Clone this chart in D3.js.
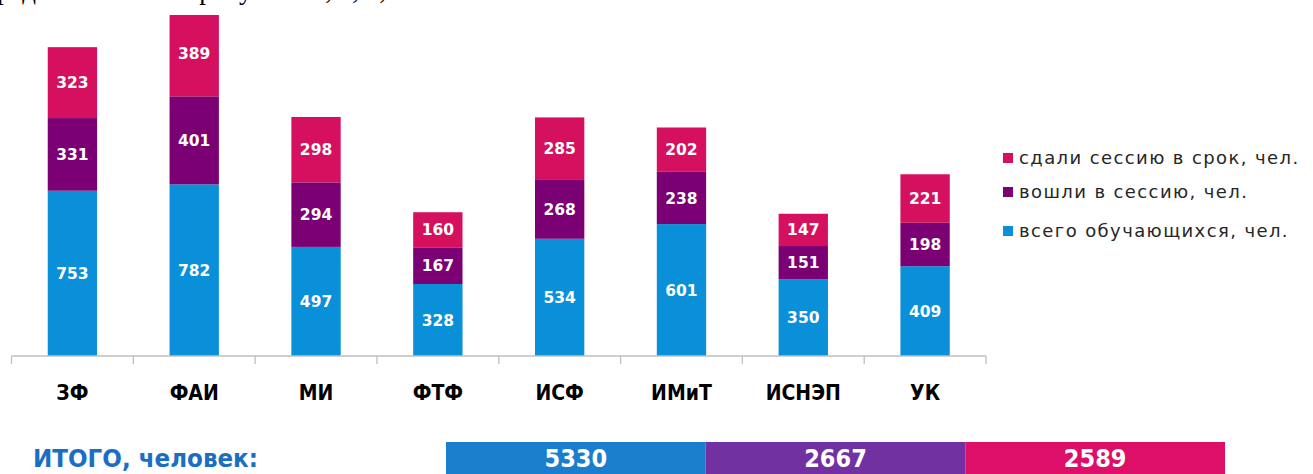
<!DOCTYPE html>
<html>
<head>
<meta charset="utf-8">
<script src="https://cdn.jsdelivr.net/npm/d3@7"></script>
<style>
  body { margin: 0; background: #fff; }
  svg { display: block; }
  .narrow { font-family: 'DejaVu Sans Condensed', 'DejaVu Sans', sans-serif; font-stretch: condensed; font-weight: bold; }
</style>
</head>
<body>
<div id="chart"></div>
<script>
"use strict";

var categories = ["ЗФ", "ФАИ", "МИ", "ФТФ", "ИСФ", "ИМиТ", "ИСНЭП", "УК"];
var allStudents = [753, 782, 497, 328, 534, 601, 350, 409];
var enteredSession = [331, 401, 294, 167, 268, 238, 151, 198];
var passedOnTime = [323, 389, 298, 160, 285, 202, 147, 221];
var seriesNames = ["всего  обучающихся, чел.", "вошли в сессию, чел.", "сдали сессию в срок, чел."];
var seriesKeys = ["all", "entered", "passed"];
var totals = [5330, 2667, 2589];
var totalLabel = "ИТОГО, человек:";

var W = 1313, H = 474;
var barColors = ["#0a8fd9", "#7b0074", "#d5115f"];
var sumColors = ["#1b7ecd", "#7131a0", "#dd0f68"];

var svg = d3.select("#chart").append("svg")
  .attr("width", W)
  .attr("height", H);

// leftover line of document text above the chart
svg.append("text")
  .attr("x", -3)
  .attr("y", -1)
  .attr("font-family", "'Liberation Serif', 'DejaVu Serif', serif")
  .attr("font-size", 27)
  .attr("fill", "#000")
  .text("редачи сессии на рисунках 5, 6, 7, 8.");

svg.append("clipPath").attr("id", "cut")
  .append("rect").attr("x", 0).attr("y", 15).attr("width", W).attr("height", H);

var rows = categories.map(function (c, i) {
  return { cat: c, all: allStudents[i], entered: enteredSession[i], passed: passedOnTime[i] };
});

var x = d3.scaleBand().domain(categories).range([11.5, 986]).padding(0);
var y = d3.scaleLinear().domain([0, 1600]).range([356, 4.8]);
var barW = x.bandwidth() * 0.405;

var stacked = d3.stack().keys(seriesKeys)(rows);

var g = svg.append("g").attr("clip-path", "url(#cut)");

var layer = g.selectAll("g.layer").data(stacked).enter().append("g")
  .attr("class", "layer")
  .attr("fill", function (d, i) { return barColors[i]; });

layer.selectAll("rect").data(function (d) { return d; }).enter().append("rect")
  .attr("x", function (d) { return x(d.data.cat) + (x.bandwidth() - barW) / 2; })
  .attr("y", function (d) { return y(d[1]); })
  .attr("width", barW)
  .attr("height", function (d) { return y(d[0]) - y(d[1]); });

layer.selectAll("text").data(function (d) { return d; }).enter().append("text")
  .attr("x", function (d) { return x(d.data.cat) + x.bandwidth() / 2; })
  .attr("y", function (d) { return (y(d[0]) + y(d[1])) / 2; })
  .attr("dy", "0.36em")
  .attr("text-anchor", "middle")
  .attr("font-family", "'DejaVu Sans', sans-serif")
  .attr("font-weight", "bold")
  .attr("font-size", 15.5)
  .attr("fill", "#fff")
  .text(function (d) { return d[1] - d[0]; });

// axis line and category separators
var axis = svg.append("g").attr("stroke", "#bfbfbf").attr("stroke-width", 1.3);
axis.append("line")
  .attr("x1", x.range()[0]).attr("x2", x.range()[1])
  .attr("y1", y(0)).attr("y2", y(0));
var edges = categories.map(function (c) { return x(c); }).concat([x.range()[1]]);
axis.selectAll("line.tick").data(edges).enter().append("line")
  .attr("class", "tick")
  .attr("x1", function (d) { return d; }).attr("x2", function (d) { return d; })
  .attr("y1", y(0)).attr("y2", y(0) + 8);

svg.append("g").selectAll("text").data(categories).enter().append("text")
  .attr("class", "narrow")
  .attr("x", function (d) { return x(d) + x.bandwidth() / 2; })
  .attr("y", 400)
  .attr("text-anchor", "middle")
  .attr("font-size", 21)
  .attr("fill", "#000")
  .text(function (d) { return d; });

// legend, top item is the last series
var legendY = [158, 192, 231];
var legend = svg.append("g").selectAll("g").data([2, 1, 0]).enter().append("g")
  .attr("transform", function (d, i) { return "translate(1003," + legendY[i] + ")"; });
legend.append("rect")
  .attr("x", 0).attr("y", -5).attr("width", 10).attr("height", 10)
  .attr("fill", function (d) { return barColors[d]; });
legend.append("text")
  .attr("x", 16)
  .attr("dy", "0.36em")
  .attr("font-family", "'DejaVu Sans', sans-serif")
  .attr("font-size", 18)
  .attr("letter-spacing", 1.4)
  .attr("fill", "#262626")
  .text(function (d) { return seriesNames[d]; });

// totals strip
svg.append("text")
  .attr("class", "narrow")
  .attr("x", 33)
  .attr("y", 467)
  .attr("font-size", 24)
  .attr("textLength", 225)
  .attr("lengthAdjust", "spacingAndGlyphs")
  .attr("fill", "#1b6ec2")
  .text(totalLabel);

var sx = d3.scaleBand().domain(d3.range(totals.length)).range([446, 1225]).padding(0);
var cells = svg.append("g").selectAll("g").data(totals).enter().append("g");
cells.append("rect")
  .attr("x", function (d, i) { return sx(i); })
  .attr("y", 442)
  .attr("width", sx.bandwidth())
  .attr("height", 40)
  .attr("fill", function (d, i) { return sumColors[i]; });
cells.append("text")
  .attr("class", "narrow")
  .attr("x", function (d, i) { return sx(i) + sx.bandwidth() / 2; })
  .attr("y", 467)
  .attr("text-anchor", "middle")
  .attr("font-size", 25)
  .attr("fill", "#fff")
  .text(function (d) { return d; });
</script>
</body>
</html>
